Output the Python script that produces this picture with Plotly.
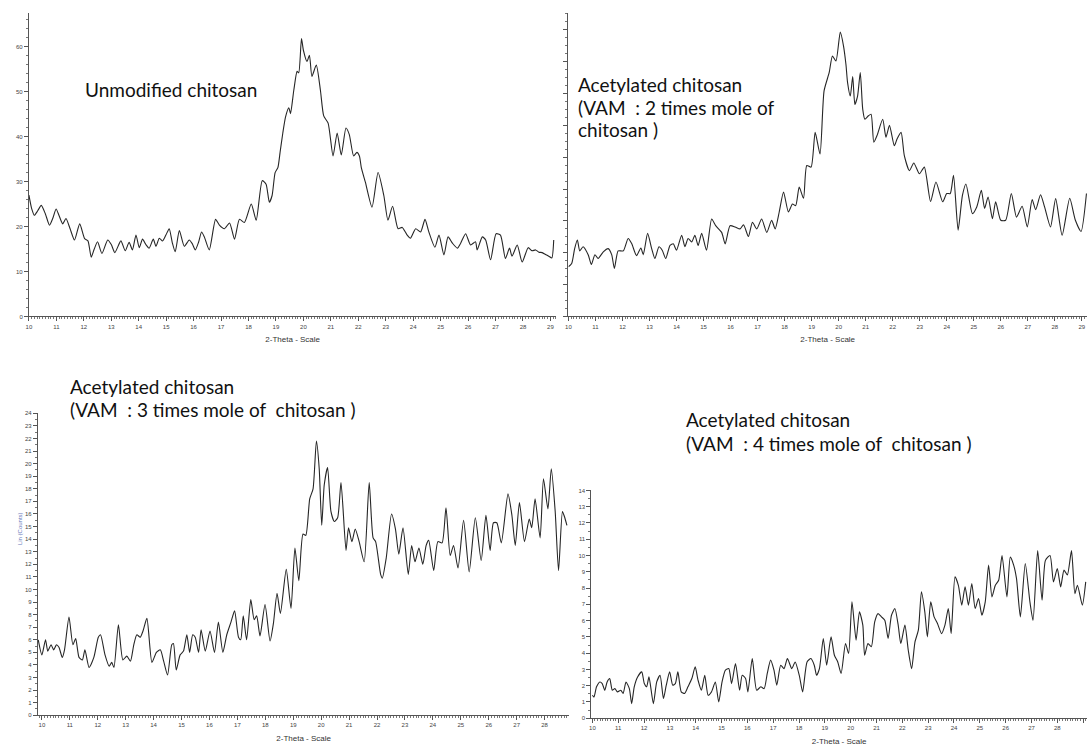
import plotly.graph_objects as go

# ---------------- data ----------------
# Panel 1: unmodified chitosan
x1 = [10.0, 10.1, 10.2, 10.32, 10.45, 10.6, 10.75, 10.88, 10.99, 11.1,
      11.23, 11.35, 11.5, 11.66, 11.85, 12.03, 12.15, 12.27, 12.38, 12.5,
      12.66, 12.87, 13.0, 13.13, 13.35, 13.51, 13.65, 13.77, 13.9, 14.02,
      14.14, 14.26, 14.38, 14.53, 14.63, 14.75, 14.87, 14.99, 15.11, 15.22,
      15.33, 15.48, 15.66, 15.84, 15.95, 16.06, 16.18, 16.29, 16.39, 16.57,
      16.8, 16.94, 17.12, 17.31, 17.49, 17.67, 17.85, 18.1, 18.28, 18.5,
      18.64, 18.76, 18.86, 18.97, 19.07, 19.15, 19.25, 19.35, 19.47, 19.53,
      19.65, 19.77, 19.83, 19.93, 20.0, 20.13, 20.22, 20.31, 20.47, 20.62,
      20.74, 20.9, 21.08, 21.23, 21.38, 21.55, 21.67, 21.83, 21.95, 22.04,
      22.11, 22.26, 22.5, 22.72, 22.93, 23.08, 23.25, 23.45, 23.6, 23.78,
      23.9, 24.09, 24.27, 24.43, 24.57, 24.79, 24.94, 25.12, 25.27, 25.43,
      25.61, 25.73, 25.91, 26.09, 26.27, 26.33, 26.52, 26.64, 26.82, 27.02,
      27.18, 27.36, 27.51, 27.6, 27.79, 27.97, 28.19, 28.33, 28.46, 28.58,
      28.7, 28.82, 28.94, 29.05, 29.12]
y1 = [27.0, 24.0, 22.5, 23.5, 24.7, 22.8, 20.3, 22.0, 23.9, 22.4,
      20.6, 21.8, 19.5, 17.0, 20.6, 17.3, 16.8, 13.2, 15.0, 16.6,
      14.0, 17.0, 16.0, 14.2, 16.8, 14.6, 16.5, 14.8, 18.1, 15.3,
      17.2, 16.0, 15.2, 17.2, 15.6, 17.4, 16.8, 18.1, 19.5, 16.5,
      14.4, 19.1, 15.6, 17.0, 16.2, 14.8, 16.5, 18.8, 17.7, 14.8,
      21.6, 20.3, 19.5, 20.8, 17.2, 21.6, 20.9, 25.0, 21.4, 30.2,
      29.4, 25.4, 26.9, 32.0, 33.1, 36.5, 40.8, 44.4, 46.4, 45.1,
      50.3, 54.5, 54.2, 61.8, 59.2, 56.7, 58.1, 53.4, 55.9, 50.3,
      44.6, 43.0, 35.7, 40.8, 35.9, 41.9, 40.5, 35.7, 36.5, 35.7,
      33.1, 29.8, 24.3, 32.0, 26.9, 21.4, 24.5, 19.5, 19.8, 18.1,
      17.4, 19.5, 18.8, 21.6, 18.8, 15.4, 18.1, 13.7, 17.7, 16.3,
      15.2, 16.3, 18.4, 15.9, 16.6, 14.8, 17.7, 17.0, 12.6, 18.4,
      18.1, 12.9, 15.2, 13.4, 15.9, 12.1, 15.3, 14.6, 14.8, 14.3,
      14.2, 13.8, 13.4, 13.0, 17.0]

# Panel 2: VAM 2 times
x2 = [10.0, 10.12, 10.23, 10.33, 10.42, 10.54, 10.73, 10.85, 10.98, 11.1,
      11.29, 11.47, 11.6, 11.7, 11.84, 12.03, 12.21, 12.34, 12.52, 12.68,
      12.77, 12.93, 13.08, 13.2, 13.35, 13.47, 13.6, 13.76, 13.88, 14.0,
      14.19, 14.31, 14.43, 14.56, 14.68, 14.8, 14.93, 15.11, 15.3, 15.45,
      15.67, 15.8, 15.98, 16.17, 16.35, 16.48, 16.66, 16.81, 16.97, 17.15,
      17.34, 17.52, 17.65, 17.8, 17.96, 18.14, 18.29, 18.41, 18.54, 18.7,
      18.82, 18.98, 19.13, 19.31, 19.46, 19.65, 19.77, 19.9, 20.06, 20.18,
      20.27, 20.33, 20.43, 20.52, 20.6, 20.7, 20.8, 20.89, 20.97, 21.1,
      21.2, 21.3, 21.42, 21.63, 21.75, 21.88, 22.06, 22.16, 22.31, 22.43,
      22.62, 22.78, 22.99, 23.17, 23.4, 23.6, 23.85, 24.0, 24.13, 24.25,
      24.42, 24.58, 24.71, 24.95, 25.11, 25.28, 25.4, 25.53, 25.69, 25.81,
      26.0, 26.18, 26.39, 26.58, 26.79, 26.98, 27.16, 27.29, 27.47, 27.62,
      27.84, 28.03, 28.27, 28.55, 28.76, 28.97, 29.17]
y2 = [15.6, 16.6, 21.3, 24.0, 20.6, 21.9, 19.4, 16.3, 19.4, 18.2,
      20.3, 21.3, 19.4, 15.1, 20.6, 20.6, 24.5, 22.9, 19.1, 21.5,
      19.4, 26.1, 21.3, 18.2, 21.9, 20.8, 18.2, 22.3, 22.8, 20.8,
      25.5, 21.9, 24.5, 23.4, 25.5, 22.3, 26.1, 20.8, 30.6, 28.5,
      26.4, 22.8, 28.5, 28.1, 27.5, 28.8, 25.1, 29.6, 27.5, 30.6,
      26.4, 30.2, 27.5, 32.8, 39.1, 32.8, 35.3, 34.8, 40.6, 37.1,
      47.4, 46.9, 57.8, 51.0, 70.8, 76.6, 81.8, 80.2, 89.3, 84.9,
      79.1, 73.4, 69.2, 75.3, 66.6, 69.2, 76.6, 65.1, 61.9, 63.0,
      63.5, 54.7, 56.8, 61.9, 56.3, 60.0, 53.6, 55.7, 57.8, 50.5,
      45.8, 48.2, 44.8, 46.9, 36.1, 42.2, 36.0, 38.6, 38.6, 44.3,
      27.1, 38.0, 41.6, 32.3, 34.4, 39.6, 33.9, 37.5, 30.7, 36.0,
      30.2, 30.2, 38.6, 31.2, 34.6, 28.1, 36.7, 33.5, 38.2, 34.4,
      28.1, 37.0, 25.5, 37.1, 30.2, 26.7, 38.6]

# Panel 3: VAM 3 times
x3 = [9.87, 10.0, 10.13, 10.21, 10.33, 10.42, 10.52, 10.61, 10.73, 10.81,
      10.97, 11.11, 11.21, 11.33, 11.45, 11.54, 11.69, 11.86, 12.02, 12.1,
      12.26, 12.41, 12.5, 12.58, 12.74, 12.9, 13.04, 13.17, 13.29, 13.4,
      13.52, 13.62, 13.76, 13.94, 14.1, 14.24, 14.36, 14.5, 14.65, 14.71,
      14.81, 14.95, 15.07, 15.19, 15.29, 15.4, 15.49, 15.61, 15.7, 15.85,
      16.02, 16.18, 16.32, 16.48, 16.62, 16.77, 16.9, 17.04, 17.12, 17.21,
      17.33, 17.48, 17.6, 17.69, 17.81, 17.99, 18.17, 18.29, 18.42, 18.54,
      18.75, 18.92, 19.06, 19.2, 19.35, 19.45, 19.59, 19.71, 19.83, 19.93,
      20.02, 20.11, 20.23, 20.35, 20.47, 20.59, 20.71, 20.89, 20.98, 21.1,
      21.22, 21.36, 21.54, 21.72, 21.86, 21.95, 22.13, 22.19, 22.33, 22.52,
      22.66, 22.78, 22.93, 23.12, 23.24, 23.36, 23.5, 23.64, 23.76, 23.85,
      24.03, 24.18, 24.33, 24.47, 24.62, 24.74, 24.9, 25.1, 25.3, 25.52,
      25.73, 25.9, 26.05, 26.17, 26.29, 26.45, 26.69, 26.83, 26.95, 27.1,
      27.28, 27.45, 27.54, 27.66, 27.84, 27.96, 28.12, 28.24, 28.38, 28.5,
      28.64, 28.71, 28.8]
y3 = [6.0, 4.8, 6.0, 5.1, 5.6, 5.2, 5.6, 5.4, 4.6, 5.2,
      7.8, 5.6, 6.1, 4.6, 4.4, 5.2, 3.8, 4.6, 6.2, 6.4,
      4.8, 3.9, 4.2, 3.8, 7.2, 4.4, 4.7, 4.3, 5.6, 6.4,
      6.2, 6.7, 7.7, 4.2, 5.0, 5.2, 4.3, 3.2, 5.6, 5.7,
      3.6, 4.8, 5.1, 6.4, 5.0, 6.4, 6.2, 5.0, 6.8, 5.1,
      6.7, 5.0, 7.4, 5.0, 6.4, 7.4, 8.3, 6.2, 6.0, 7.9,
      6.0, 9.2, 7.6, 7.9, 6.3, 8.8, 5.9, 7.3, 9.7, 8.1,
      11.6, 8.5, 13.3, 10.7, 14.4, 14.3, 17.2, 18.0, 21.8, 19.6,
      15.1, 18.3, 19.7, 16.2, 15.4, 15.7, 18.5, 13.1, 14.9, 13.8,
      14.8, 13.8, 12.2, 18.5, 14.1, 13.8, 11.2, 10.9, 12.5, 16.0,
      14.8, 12.8, 14.9, 11.2, 13.5, 12.2, 13.3, 12.0, 13.5, 13.9,
      11.5, 13.8, 13.7, 16.5, 12.7, 13.5, 11.7, 15.5, 11.4, 15.7,
      12.3, 15.9, 13.1, 15.3, 15.3, 13.7, 17.6, 15.9, 13.5, 16.9,
      13.8, 15.6, 14.9, 17.2, 14.1, 18.8, 16.4, 19.6, 16.2, 11.5,
      16.2, 15.8, 15.1]

# Panel 4: VAM 4 times
x4 = [10.0, 10.06, 10.16, 10.29, 10.38, 10.48, 10.57, 10.67, 10.77, 10.87,
      10.97, 11.1, 11.19, 11.3, 11.43, 11.52, 11.62, 11.75, 11.91, 12.01,
      12.1, 12.19, 12.36, 12.49, 12.62, 12.75, 12.86, 12.99, 13.11, 13.21,
      13.31, 13.44, 13.57, 13.7, 13.85, 13.98, 14.09, 14.22, 14.35, 14.48,
      14.61, 14.76, 14.89, 15.02, 15.15, 15.28, 15.39, 15.54, 15.7, 15.8,
      15.93, 16.02, 16.19, 16.36, 16.52, 16.65, 16.77, 16.9, 17.03, 17.14,
      17.29, 17.42, 17.55, 17.72, 17.85, 18.01, 18.14, 18.31, 18.46, 18.59,
      18.68, 18.79, 18.94, 19.07, 19.24, 19.37, 19.5, 19.63, 19.8, 19.92,
      20.05, 20.21, 20.34, 20.47, 20.54, 20.67, 20.8, 20.93, 21.06, 21.19,
      21.32, 21.45, 21.58, 21.71, 21.84, 21.94, 22.1, 22.23, 22.36, 22.49,
      22.62, 22.74, 22.87, 22.97, 23.1, 23.23, 23.36, 23.52, 23.65, 23.78,
      23.89, 24.04, 24.17, 24.3, 24.43, 24.56, 24.69, 24.82, 24.95, 25.08,
      25.21, 25.34, 25.47, 25.6, 25.73, 25.86, 26.05, 26.18, 26.31, 26.42,
      26.57, 26.76, 26.94, 27.06, 27.24, 27.41, 27.54, 27.72, 27.85, 28.0,
      28.13, 28.26, 28.39, 28.55, 28.68, 28.78, 28.97, 29.1]
y4 = [1.41, 1.3, 1.93, 2.23, 2.13, 1.72, 2.23, 2.44, 1.72, 1.82,
      1.62, 1.72, 1.52, 2.23, 1.82, 0.9, 1.93, 2.54, 2.85, 2.13,
      1.93, 2.54, 0.9, 2.23, 2.64, 1.21, 2.03, 2.85, 2.03, 2.13,
      2.85, 1.62, 1.52, 1.93, 2.44, 3.16, 2.34, 1.72, 2.64, 1.41,
      1.62, 2.23, 1.0, 2.23, 2.95, 3.05, 2.13, 3.36, 1.72, 2.64,
      2.44, 1.62, 3.67, 1.72, 1.93, 1.82, 2.75, 3.57, 2.95, 2.03,
      3.26, 3.05, 3.67, 3.05, 3.46, 2.64, 1.62, 3.46, 3.67, 3.26,
      2.64, 3.05, 4.9, 3.26, 5.0, 3.87, 3.46, 2.75, 4.59, 3.98,
      7.15, 4.8, 6.54, 5.72, 3.87, 4.59, 4.39, 5.92, 6.43, 6.23,
      6.02, 4.9, 6.33, 6.74, 5.72, 4.59, 5.72, 4.18, 3.05, 4.69,
      5.41, 7.77, 6.54, 5.0, 7.15, 6.23, 5.82, 5.2, 5.72, 6.74,
      5.2, 8.69, 8.17, 6.95, 8.07, 6.95, 8.28, 6.74, 7.36, 6.33,
      7.15, 9.41, 7.46, 8.17, 8.48, 10.0, 7.46, 9.9, 9.41, 8.59,
      6.23, 9.51, 7.15, 6.02, 10.3, 7.25, 9.7, 10.0, 8.38, 9.2,
      8.07, 9.1, 8.8, 10.3, 7.66, 8.17, 6.95, 8.38]

xticks_top = list(range(10, 30))
xticks_bl = list(range(10, 29))
xticks_br = list(range(10, 30))
yticks_tl = [0, 10, 20, 30, 40, 50, 60]
yticks_tr = [0, 10, 20, 30, 40, 50, 60, 70, 80, 90]
yticks_bl = list(range(0, 25))
yticks_br = list(range(0, 15))

x_title = "2-Theta - Scale"
labels = [
    ("Unmodified chitosan", 80, 87),
    ("Acetylated chitosan", 575, 82),
    ("(VAM\u00a0 : 2 times mole of", 575, 105),
    ("chitosan )", 575, 128),
    ("Acetylated chitosan", 65, 387),
    ("(VAM\u00a0 : 3 times mole of\u00a0 chitosan )", 65, 410),
    ("Acetylated chitosan", 683, 420),
    ("(VAM\u00a0 : 4 times mole of\u00a0 chitosan )", 683, 444),
]

# ---------------- figure ----------------
W, H = 1087, 751
LINE = dict(color="#262626", width=1.1, shape="spline", smoothing=0.6)
AX = "#555555"
TICKFONT = dict(family="Liberation Sans, Arial, sans-serif", size=6, color="#444444")


def px_x(a, b):
    return [a / W, b / W]


def px_y(top, bottom):
    return [(H - bottom) / H, (H - top) / H]


fig = go.Figure()
series = [(x1, y1, "x", "y"), (x2, y2, "x2", "y2"), (x3, y3, "x3", "y3"), (x4, y4, "x4", "y4")]
for xs, ys, xa, ya in series:
    fig.add_trace(go.Scatter(x=xs, y=ys, mode="lines", line=LINE, xaxis=xa, yaxis=ya,
                             showlegend=False, hoverinfo="skip"))


def xaxis(domain, rng, ticks, anchor):
    return dict(domain=domain, range=rng, anchor=anchor, showgrid=False, zeroline=False,
                showline=True, linecolor=AX, linewidth=1,
                ticks="outside", ticklen=4, tickcolor=AX, tickwidth=1,
                tickvals=ticks, ticktext=[str(t) for t in ticks], tickfont=TICKFONT,
                minor=dict(dtick=0.1, tick0=10, ticks="outside", ticklen=2, tickcolor="#777777"),
                title=dict(text=x_title, standoff=7,
                           font=dict(family="Liberation Sans, Arial, sans-serif", size=8, color="#333333")))


def yaxis(domain, rng, ticks, anchor, minor_dt, show_labels=True):
    return dict(domain=domain, range=rng, anchor=anchor, showgrid=False, zeroline=False,
                showline=True, linecolor=AX, linewidth=1,
                ticks="outside", ticklen=4, tickcolor=AX, tickwidth=1,
                tickvals=ticks, ticktext=[str(t) for t in ticks], tickfont=TICKFONT,
                showticklabels=show_labels,
                minor=dict(dtick=minor_dt, tick0=0, ticks="outside", ticklen=2, tickcolor="#777777"))


fig.update_layout(
    width=W, height=H,
    margin=dict(l=0, r=0, t=0, b=0),
    paper_bgcolor="white", plot_bgcolor="white",
    xaxis=xaxis(px_x(26, 555), [10, 29.22], xticks_top, "y"),
    yaxis=yaxis(px_y(10, 316), [0, 67.5], yticks_tl, "x", 2),
    xaxis2=xaxis(px_x(567, 1087), [10, 29.19], xticks_top, "y2"),
    yaxis2=yaxis(px_y(10, 316), [0, 95.3], yticks_tr, "x2", 2.5, show_labels=False),
    xaxis3=xaxis(px_x(35, 568), [9.857, 28.89], xticks_bl, "y3"),
    yaxis3=yaxis(px_y(413, 718), [0, 24.05], yticks_bl, "x3", 0.5),
    xaxis4=xaxis(px_x(590, 1087), [9.96, 29.15], xticks_br, "y4"),
    yaxis4=yaxis(px_y(491, 721), [0, 14.02], yticks_br, "x4", 0.5),
)

annotations = []
for text, lx, cy in labels:
    annotations.append(dict(text=text, x=lx / W, y=(H - cy) / H, xref="paper", yref="paper",
                            xanchor="left", yanchor="middle", showarrow=False,
                            font=dict(family="Lato, Open Sans, sans-serif", size=19, color="#111111")))
annotations.append(dict(text="Lin (Counts)", x=12 / W, y=(H - 548) / H, xref="paper", yref="paper",
                        textangle=-90, showarrow=False,
                        font=dict(family="Liberation Sans, Arial, sans-serif", size=6, color="#6677bb")))
fig.update_layout(annotations=annotations)

# remove the browser's default page margin so the figure sits at the window's top-left corner
fig.write_html("out.html", config={"displayModeBar": False},
               post_script="document.body.style.margin='0px';")
